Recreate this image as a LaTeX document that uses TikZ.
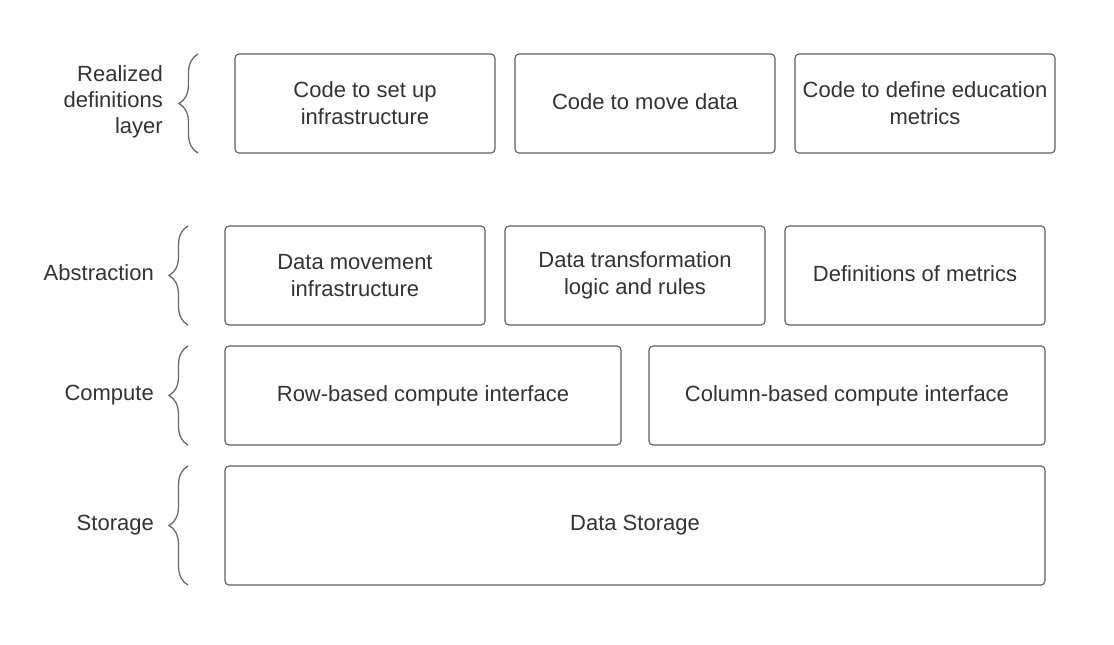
\documentclass[tikz,border=0pt]{standalone}
\usepackage{fontspec}
\setmainfont{Liberation Sans}
\usetikzlibrary{decorations.pathreplacing}
\definecolor{boxline}{HTML}{5E5E5E}
\definecolor{braceline}{HTML}{6A6A6A}
\definecolor{txt}{HTML}{333333}
\begin{document}
\begin{tikzpicture}[x=1pt,y=-1pt,
  layerbox/.style={draw=boxline, line width=1.1pt, rounded corners=4pt, inner sep=0pt,
    align=center, text=txt, font=\fontsize{22}{27}\selectfont},
  layerlabel/.style={anchor=east, align=right, text=txt, inner sep=0pt, font=\fontsize{22}{26}\selectfont},
  layerbrace/.style={draw=braceline, line width=1.3pt, decorate, decoration={brace, amplitude=19pt}}]
\useasboundingbox[fill=white] (0,0) rectangle (1114,645);
% row 1
\node[layerbox, minimum width=260pt, minimum height=99pt] (r1a) at (365,103.5) {Code to set up\\infrastructure};
\node[layerbox, minimum width=260pt, minimum height=99pt] (r1b) at (645,103.5) {\raisebox{4.5pt}{Code to move data}};
\node[layerbox, minimum width=260pt, minimum height=99pt] (r1c) at (925,103.5) {Code to define education\\metrics};
% row 2
\node[layerbox, minimum width=260pt, minimum height=99pt] (r2a) at (355,275.5) {Data movement\\infrastructure};
\node[layerbox, minimum width=260pt, minimum height=99pt] (r2b) at (635,275.5) {Data transformation\\logic and rules};
\node[layerbox, minimum width=260pt, minimum height=99pt] (r2c) at (915,275.5) {\raisebox{4.5pt}{Definitions of metrics}};
% row 3
\node[layerbox, minimum width=396pt, minimum height=99pt] (r3a) at (423,395.5) {\raisebox{3.5pt}{Row-based compute interface}};
\node[layerbox, minimum width=396pt, minimum height=99pt] (r3b) at (847,395.5) {\raisebox{3.5pt}{Column-based compute interface}};
% row 4
\node[layerbox, minimum width=820pt, minimum height=119pt] (r4) at (635,525.5) {\raisebox{3pt}{Data Storage}};
% braces
\coordinate (b1t) at (198,54); \coordinate (b1b) at (198,153);
\coordinate (b2t) at (188,226); \coordinate (b2b) at (188,325);
\coordinate (b3t) at (188,346); \coordinate (b3b) at (188,445);
\coordinate (b4t) at (188,466); \coordinate (b4b) at (188,585);
\draw[layerbrace] (b1b) -- (b1t);
\draw[layerbrace] (b2b) -- (b2t);
\draw[layerbrace] (b3b) -- (b3t);
\draw[layerbrace] (b4b) -- (b4t);
% labels
\node[layerlabel] (l1) at (163,102) {Realized\\definitions\\layer};
\node[layerlabel] (l2) at (154,273) {Abstraction};
\node[layerlabel] (l3) at (154,395) {Compute};
\node[layerlabel] (l4) at (154,525) {Storage};
\end{tikzpicture}
\end{document}
